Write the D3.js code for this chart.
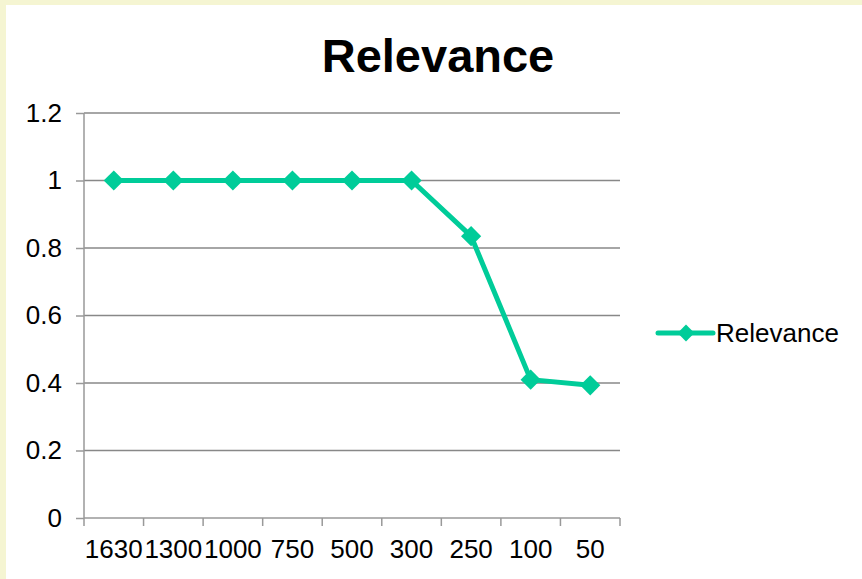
<!DOCTYPE html>
<html><head><meta charset="utf-8">
<script src="https://cdn.jsdelivr.net/npm/d3@7"></script>
<style>html,body{margin:0;padding:0;background:#fff;}svg{display:block;}</style>
</head><body>
<script>
const categories = ["1630","1300","1000","750","500","300","250","100","50"];
const relevance = [1,1,1,1,1,1,0.835,0.41,0.393];
const yTicks = [0,0.2,0.4,0.6,0.8,1,1.2];
const yTickLabels = ["0","0.2","0.4","0.6","0.8","1","1.2"];
const seriesName = "Relevance";
const chartTitle = "Relevance";

const W = 862, H = 579;
const svg = d3.select("body").append("svg").attr("width", W).attr("height", H);
svg.append("rect").attr("width", W).attr("height", H).attr("fill", "#f5f5d2");
svg.append("rect").attr("x", 6).attr("y", 5).attr("width", W - 6).attr("height", H - 5).attr("fill", "#fff");

const pLeft = 84, pRight = 620, pTop = 113, pBottom = 518;
const x = d3.scaleBand().domain(categories).range([pLeft, pRight]);
const y = d3.scaleLinear().domain([0, 1.2]).range([pBottom, pTop]);
const font = "Liberation Sans, Arial, sans-serif";
const green = "#00cc99";

svg.append("text").attr("x", 438).attr("y", 72).attr("text-anchor", "middle")
  .attr("font-family", font).attr("font-weight", "bold").attr("font-size", 47).attr("fill", "#000").text(chartTitle);

// gridlines
svg.append("g").selectAll("line").data(yTicks.filter(d => d > 0)).join("line")
  .attr("x1", pLeft).attr("x2", pRight).attr("y1", d => y(d)).attr("y2", d => y(d))
  .attr("stroke", "#888").attr("stroke-width", 1.5);

// y axis
const yAxis = svg.append("g").attr("transform", `translate(${pLeft},0)`)
  .call(d3.axisLeft(y).tickValues(yTicks).tickFormat((d, i) => yTickLabels[i]).tickSize(8).tickPadding(14));
yAxis.select(".domain").attr("stroke", "#999").attr("stroke-width", 1.5).attr("d", `M0,${pTop}V${pBottom}`);
yAxis.selectAll(".tick line").attr("stroke", "#999").attr("stroke-width", 1.5);
yAxis.selectAll("text").attr("font-family", font).attr("font-size", 26).attr("fill", "#000");

// x axis
const xAxis = svg.append("g").attr("transform", `translate(0,${pBottom})`)
  .call(d3.axisBottom(x).tickSize(0).tickPadding(22));
xAxis.select(".domain").attr("stroke", "#999").attr("stroke-width", 1.5).attr("d", `M${pLeft},0H${pRight}`);
xAxis.selectAll("text").attr("font-family", font).attr("font-size", 26).attr("fill", "#000");
const bounds = x.domain().map(d => x(d)).concat([pRight]);
xAxis.selectAll(".bt").data(bounds).join("line").attr("class", "bt")
  .attr("x1", d => d).attr("x2", d => d).attr("y1", 0).attr("y2", 8)
  .attr("stroke", "#999").attr("stroke-width", 1.5);

// line
const cx = d => x(d) + x.bandwidth() / 2;
const line = d3.line().x((d, i) => cx(categories[i])).y(d => y(d));
svg.append("path").datum(relevance).attr("d", line).attr("fill", "none")
  .attr("stroke", green).attr("stroke-width", 5).attr("stroke-linejoin", "round");
const diamond = d3.symbol().type(d3.symbolDiamond2).size(260);
svg.append("g").selectAll("path").data(relevance).join("path")
  .attr("transform", (d, i) => `translate(${cx(categories[i])},${y(d)})`)
  .attr("d", diamond).attr("fill", green);

// legend
const lg = svg.append("g");
lg.append("line").attr("x1", 658).attr("x2", 713).attr("y1", 333).attr("y2", 333)
  .attr("stroke", green).attr("stroke-width", 5).attr("stroke-linecap", "round");
lg.append("path").attr("transform", "translate(686,333)").attr("d", d3.symbol().type(d3.symbolDiamond2).size(180)).attr("fill", green);
lg.append("text").attr("x", 716).attr("y", 342).attr("font-family", font).attr("font-size", 26).attr("fill", "#000").text(seriesName);
</script>
</body></html>
